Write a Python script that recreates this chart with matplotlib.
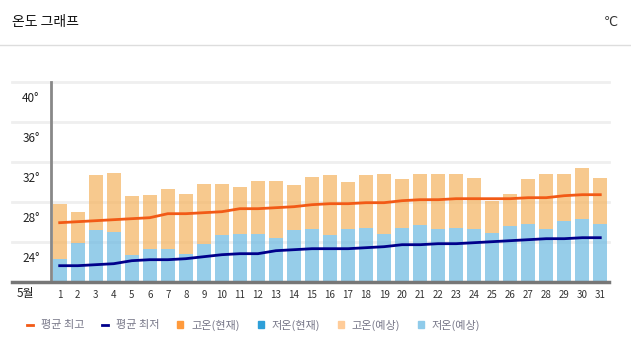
import matplotlib.pyplot as plt
from matplotlib.lines import Line2D
from matplotlib.patches import Patch

plt.rcParams['font.family'] = ['Noto Sans CJK KR', 'DejaVu Sans']

days = list(range(1, 32))
# 예상 고온 / 저온 (막대)
high = [27.8, 27.0, 30.7, 30.9, 28.6, 28.7, 29.3, 28.8, 29.8, 29.8,
        29.5, 30.1, 30.1, 29.7, 30.5, 30.7, 30.0, 30.7, 30.8, 30.3,
        30.8, 30.8, 30.8, 30.4, 28.1, 28.8, 30.3, 30.8, 30.8, 31.4, 30.4]
low = [22.3, 23.9, 25.2, 25.0, 22.7, 23.3, 23.3, 22.8, 23.8, 24.7,
       24.8, 24.8, 24.4, 25.2, 25.3, 24.7, 25.3, 25.4, 24.8, 25.4,
       25.7, 25.3, 25.4, 25.3, 24.9, 25.6, 25.8, 25.3, 26.1, 26.3, 25.8]
# 평균 최고 / 최저 (선)
avg_high = [25.9, 26.0, 26.1, 26.2, 26.3, 26.4, 26.8, 26.8, 26.9, 27.0,
            27.3, 27.3, 27.4, 27.5, 27.7, 27.8, 27.8, 27.9, 27.9, 28.1,
            28.2, 28.2, 28.3, 28.3, 28.3, 28.3, 28.4, 28.4, 28.6, 28.7, 28.7]
avg_low = [21.6, 21.6, 21.7, 21.8, 22.1, 22.2, 22.2, 22.3, 22.5, 22.7,
           22.8, 22.8, 23.1, 23.2, 23.3, 23.3, 23.3, 23.4, 23.5, 23.7,
           23.7, 23.8, 23.8, 23.9, 24.0, 24.1, 24.2, 24.3, 24.3, 24.4, 24.4]
grid_vals = [24, 28, 32, 36, 40]
ylabels = ['24°', '28°', '32°', '36°', '40°']

fig = plt.figure(figsize=(6.31, 3.55), dpi=100)
ax = fig.add_axes([0.0803, 0.2065, 0.8853, 0.5634])

# gridlines (under the bars, extended to the left)
for v in grid_vals:
    ax.axhline(v, xmin=-0.069, xmax=1, color='#efefef', lw=2, clip_on=False, zorder=0)

ax.bar(days, [l - 20 for l in low], width=0.76, bottom=20,
       color='#6ab8e1', alpha=0.7, zorder=1)
ax.bar(days, [h - l for h, l in zip(high, low)], width=0.76, bottom=low,
       color='#f5b35e', alpha=0.7, zorder=1)
ax.plot(days, avg_high, color='#f25a16', lw=2, zorder=3)
ax.plot(days, avg_low, color='#00008b', lw=2, zorder=3)

ax.set_xlim(0.5, 31.5)
ax.set_ylim(20, 40)
for s in ['top', 'right', 'bottom']:
    ax.spines[s].set_visible(False)
ax.spines['left'].set_color('#888888')
ax.spines['left'].set_linewidth(2)
ax.axhline(20, xmin=-0.069, xmax=1, color='#777777', lw=2.5, clip_on=False, zorder=4)

# labels sit half a step below their gridline
ax.set_yticks([v - 1.5 for v in grid_vals])
ax.set_yticklabels(ylabels, fontsize=8.5, color='#222222')
ax.set_xticks(days)
ax.set_xticklabels([str(d) for d in days], fontsize=7, color='#333333')
ax.tick_params(axis='both', length=0)
ax.tick_params(axis='x', pad=6)
ax.tick_params(axis='y', pad=8)
fig.text(25 / 631, 1 - 294 / 355, '5월', fontsize=8.5, color='#222222',
         ha='center', va='center')

# header
fig.text(12 / 631, 1 - 22 / 355, '온도 그래프', fontsize=10, color='#111111',
         ha='left', va='center')
fig.text(618 / 631, 1 - 22 / 355, '℃', fontsize=9, color='#333333',
         ha='right', va='center', family=['DejaVu Sans'])
fig.add_artist(Line2D([0, 1], [1 - 45 / 355, 1 - 45 / 355], color='#dddddd', lw=1))

handles = [
    Line2D([0], [0], color='#f25a16', lw=2),
    Line2D([0], [0], color='#00008b', lw=2),
    Patch(color='#ff9a3c'),
    Patch(color='#2e9fd8'),
    Patch(color='#ffcc99'),
    Patch(color='#8fcbea'),
]
labels = ['평균 최고', '평균 최저', '고온(현재)', '저온(현재)', '고온(예상)', '저온(예상)']
fig.legend(handles, labels, loc='center left', bbox_to_anchor=(17 / 631, 1 - 325 / 355),
           ncol=6, frameon=False, fontsize=8, handlelength=0.55, handleheight=0.55,
           handletextpad=0.7, columnspacing=1.6, labelcolor='#777788')

fig.savefig('out.png', dpi=100)
